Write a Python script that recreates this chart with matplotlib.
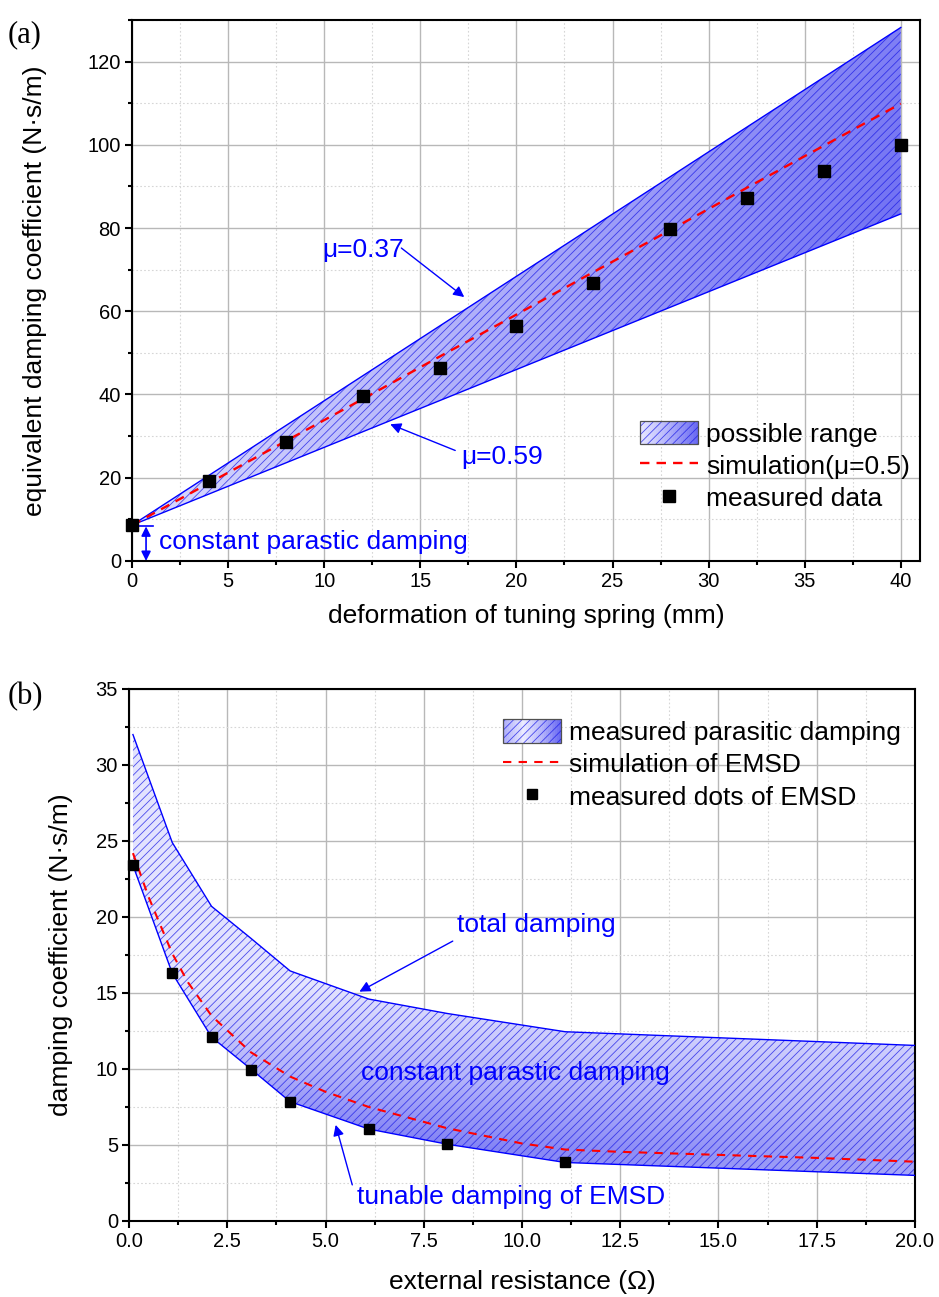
import numpy as np
import matplotlib
matplotlib.use('Agg')
import matplotlib.pyplot as plt
from matplotlib.patches import Polygon, Rectangle
from matplotlib.lines import Line2D
from matplotlib.legend_handler import HandlerBase
from matplotlib.colors import LinearSegmentedColormap
from matplotlib.ticker import MultipleLocator, FormatStrFormatter

# (a) damping vs. spring deformation
spring_mm = [0, 4, 8, 12, 16, 20, 24, 28, 32, 36, 40]
measured_a = [8.6, 19.2, 28.6, 39.6, 46.3, 56.4, 66.7, 79.7, 87.3, 93.7, 100.0]
sim_a = [8.6, 18.7, 28.8, 38.9, 49.1, 59.2, 69.4, 79.5, 89.7, 99.8, 109.9]
bound_x_a = [0, 40]
upper_a = [8.6, 128.2]   # mu = 0.37
lower_a = [8.6, 83.4]    # mu = 0.59

# (b) damping vs. external resistance
res_ohm = [0.1, 1.1, 2.1, 3.1, 4.1, 6.1, 8.1, 11.1, 20.0]
total_b = [32.0, 24.9, 20.7, 18.6, 16.45, 14.6, 13.65, 12.45, 11.55]
tunable_b = [23.4, 16.3, 12.1, 10.0, 7.85, 6.05, 5.05, 3.85, 3.0]
dots_x_b = [0.1, 1.1, 2.1, 3.1, 4.1, 6.1, 8.1, 11.1]
dots_b = [23.4, 16.3, 12.1, 9.95, 7.85, 6.05, 5.05, 3.85]
sim_x_b = [0.1, 0.5, 1.1, 1.5, 2.1, 3.1, 4.1, 5.0, 6.1, 8.1, 10.0, 11.1, 12.5, 15.0, 17.5, 20.0]
sim_b = [24.2, 21.3, 17.6, 15.7, 13.5, 11.1, 9.5, 8.5, 7.5, 6.1, 5.1, 4.7, 4.55, 4.35, 4.15, 3.9]

BLUE = '#0000ff'
HATCH = (0.1, 0.1, 0.9, 0.75)
FILL_CMAP = LinearSegmentedColormap.from_list('fill', ['#ececff', '#b4b4fa', '#6a6af2'])

plt.rcParams['font.family'] = ['Liberation Sans', 'DejaVu Sans']
plt.rcParams['hatch.linewidth'] = 0.6
plt.rcParams['axes.linewidth'] = 1.5


class GradientPatchHandler(HandlerBase):
    def __init__(self, profile):
        super().__init__()
        self.profile = profile

    def create_artists(self, legend, orig_handle, xdescent, ydescent, width, height, fontsize, trans):
        arts = []
        n = len(self.profile)
        for i, t in enumerate(self.profile):
            arts.append(Rectangle((-xdescent + width * i / n, -ydescent), width / n + 0.4, height,
                                  facecolor=FILL_CMAP(t), edgecolor='none', lw=0, transform=trans))
        arts.append(Rectangle((-xdescent, -ydescent), width, height, facecolor='none',
                              edgecolor=HATCH, hatch='////', lw=0, transform=trans))
        arts.append(Rectangle((-xdescent, -ydescent), width, height, facecolor='none',
                              edgecolor='#505050', lw=0.9, transform=trans))
        return arts


def gradient_band(ax, xs, upper, lower, grad_fn):
    verts = list(zip(xs, upper)) + list(zip(xs[::-1], lower[::-1]))
    clip = Polygon(verts, closed=True, facecolor='none', edgecolor='none')
    ax.add_patch(clip)
    x0, x1 = min(xs), max(xs)
    y0, y1 = min(lower), max(upper)
    gx, gy = np.meshgrid(np.linspace(0, 1, 200), np.linspace(0, 1, 200))
    im = ax.imshow(grad_fn(gx, gy), extent=[x0, x1, y0, y1], origin='lower', aspect='auto',
                   cmap=FILL_CMAP, vmin=0, vmax=1, zorder=1, interpolation='bilinear')
    im.set_clip_path(clip)
    ax.add_patch(Polygon(verts, closed=True, facecolor='none', edgecolor=HATCH,
                         hatch='////', lw=0, zorder=2))


def style_axes(ax, xmaj, xmin, ymaj, ymin):
    ax.set_axisbelow(True)
    ax.xaxis.set_major_locator(MultipleLocator(xmaj))
    ax.xaxis.set_minor_locator(MultipleLocator(xmin))
    ax.yaxis.set_major_locator(MultipleLocator(ymaj))
    ax.yaxis.set_minor_locator(MultipleLocator(ymin))
    ax.grid(which='major', color='#b8b8b8', lw=1.0)
    ax.grid(which='minor', color='#d6d6d6', lw=0.8, ls=(0, (1.5, 2)))
    ax.tick_params(which='major', direction='out', length=5, width=1.5, labelsize=14.5, pad=3)
    ax.tick_params(which='minor', direction='out', length=3, width=1.5)


fig = plt.figure(figsize=(9.39, 12.97), dpi=100)

# ---------- (a) ----------
ax1 = fig.add_axes([0.1406, 0.5675, 0.8392, 0.4171])
x = np.array(bound_x_a, float)
gradient_band(ax1, x, np.array(upper_a), np.array(lower_a),
              lambda gx, gy: np.clip(0.15 + 0.7 * gx + 0.25 * (1 - gy) * gx, 0, 1))
ax1.plot(bound_x_a, upper_a, color=BLUE, lw=1, zorder=3)
ax1.plot(bound_x_a, lower_a, color=BLUE, lw=1, zorder=3)
ax1.plot(spring_mm, sim_a, color='red', lw=1.7, dashes=(4, 3), zorder=4)
ax1.plot(spring_mm, measured_a, 's', color='black', ms=8, zorder=5, clip_on=False)
ax1.set_xlim(0, 41)
ax1.set_ylim(0, 130)
style_axes(ax1, 5, 2.5, 20, 10)
ax1.set_xlabel('deformation of tuning spring (mm)', fontsize=19)
ax1.set_ylabel('equivalent damping coefficient (N·s/m)', fontsize=19)
ax1.xaxis.set_label_coords(0.5, -0.079)
ax1.yaxis.set_label_coords(-0.108, 0.5)

ax1.text(9.9, 74.8, 'μ=0.37', color=BLUE, fontsize=19, va='center')
ax1.annotate('', xy=(17.4, 63.0), xytext=(13.9, 75.6),
             arrowprops=dict(arrowstyle='-|>', color=BLUE, lw=1, mutation_scale=16))
ax1.text(17.15, 25.1, 'μ=0.59', color=BLUE, fontsize=19, va='center')
ax1.annotate('', xy=(13.3, 33.1), xytext=(16.95, 26.3),
             arrowprops=dict(arrowstyle='-|>', color=BLUE, lw=1, mutation_scale=16))
ax1.annotate('', xy=(0.73, 8.3), xytext=(0.73, 0),
             arrowprops=dict(arrowstyle='<|-|>', color=BLUE, lw=1.2, mutation_scale=14,
                             shrinkA=0, shrinkB=0))
ax1.plot([0.05, 1.1], [8.3, 8.3], color=BLUE, lw=1.2)
ax1.text(1.4, 4.6, 'constant parastic damping', color=BLUE, fontsize=19, va='center')

band_a = Rectangle((0, 0), 1, 1)
ax1.legend([band_a, Line2D([], [], color='red', lw=1.7, dashes=(4, 3)),
            Line2D([], [], ls='none', marker='s', color='black', ms=8)],
           ['possible range', 'simulation(μ=0.5)', 'measured data'],
           handler_map={band_a: GradientPatchHandler(np.linspace(0.05, 1, 30))},
           loc='upper left', bbox_to_anchor=(0.645, 0.259), frameon=False, fontsize=19,
           handlelength=2.2, handleheight=1.0, handletextpad=0.3, labelspacing=0.24,
           borderpad=0, borderaxespad=0)

# ---------- (b) ----------
ax2 = fig.add_axes([0.1374, 0.0586, 0.837, 0.4102])
xb = np.array(res_ohm, float)
gradient_band(ax2, xb, np.array(total_b), np.array(tunable_b),
              lambda gx, gy: np.clip(1.15 - 2.5 * gy, 0.08, 1) * (1 - 0.4 * gx))
ax2.plot(res_ohm, total_b, color=BLUE, lw=1, zorder=3)
ax2.plot(res_ohm, tunable_b, color=BLUE, lw=1, zorder=3)
ax2.plot(sim_x_b, sim_b, color='red', lw=1.5, dashes=(4, 3.5), zorder=4)
ax2.plot(dots_x_b, dots_b, 's', color='black', ms=7.5, zorder=5, clip_on=False)
ax2.set_xlim(0, 20)
ax2.set_ylim(0, 35)
style_axes(ax2, 2.5, 1.25, 5, 2.5)
ax2.xaxis.set_major_formatter(FormatStrFormatter('%.1f'))
ax2.set_xlabel('external resistance (Ω)', fontsize=19)
ax2.set_ylabel('damping coefficient (N·s/m)', fontsize=19)
ax2.xaxis.set_label_coords(0.5, -0.093)
ax2.yaxis.set_label_coords(-0.071, 0.5)

ax2.text(8.35, 19.5, 'total damping', color=BLUE, fontsize=19, va='center')
ax2.annotate('', xy=(5.8, 15.0), xytext=(8.3, 18.5),
             arrowprops=dict(arrowstyle='-|>', color=BLUE, lw=1, mutation_scale=16))
ax2.text(5.9, 9.75, 'constant parastic damping', color=BLUE, fontsize=19, va='center')
ax2.text(5.8, 1.6, 'tunable damping of EMSD', color=BLUE, fontsize=19, va='center')
ax2.annotate('', xy=(5.24, 6.5), xytext=(5.7, 2.2),
             arrowprops=dict(arrowstyle='-|>', color=BLUE, lw=1, mutation_scale=16))

band_b = Rectangle((0, 0), 1, 1)
prof_b = np.abs(np.linspace(-0.55, 1.0, 30))
ax2.legend([band_b, Line2D([], [], color='red', lw=1.5, dashes=(4, 3.5)),
            Line2D([], [], ls='none', marker='s', color='black', ms=7.5)],
           ['measured parasitic damping', 'simulation of EMSD', 'measured dots of EMSD'],
           handler_map={band_b: GradientPatchHandler(prof_b)},
           loc='upper left', bbox_to_anchor=(0.476, 0.943), frameon=False, fontsize=19,
           handlelength=2.2, handleheight=1.0, handletextpad=0.3, labelspacing=0.24,
           borderpad=0, borderaxespad=0)

fig.text(0.008, 0.9845, '(a)', family='Liberation Serif', fontsize=22, va='top')
fig.text(0.008, 0.4745, '(b)', family='Liberation Serif', fontsize=22, va='top')

fig.savefig('out.png', dpi=100)
